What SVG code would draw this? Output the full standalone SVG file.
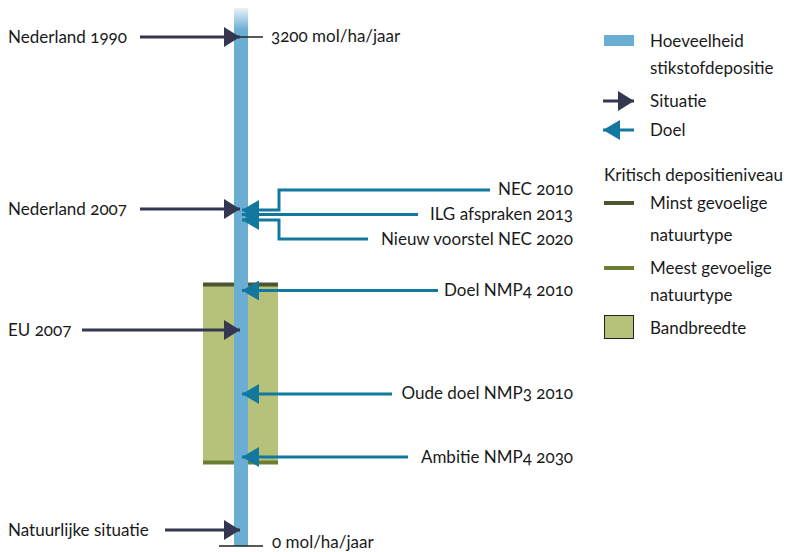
<svg xmlns="http://www.w3.org/2000/svg" width="793" height="552" viewBox="0 0 793 552">
  <defs>
    <style>
      text { font-family: Lato, "Open Sans", "Liberation Sans", sans-serif; font-size: 17px; fill: #1a1a1a; font-feature-settings: "onum"; font-variant-numeric: oldstyle-nums; }
      .end { text-anchor: end; }
      .sit { stroke: #35364f; stroke-width: 3; fill: none; }
      .goal { stroke: #12789f; stroke-width: 3; fill: none; }
      .tick { stroke: #222; stroke-width: 1.5; }
    </style>
    <linearGradient id="barFade" x1="0" y1="0" x2="0" y2="1">
      <stop offset="0" stop-color="#6aaed3" stop-opacity="0.15"/>
      <stop offset="1" stop-color="#6aaed3" stop-opacity="1"/>
    </linearGradient>
    <marker id="headSit" viewBox="0 0 16 20" refX="16" refY="10" markerWidth="16" markerHeight="20" markerUnits="userSpaceOnUse" orient="auto">
      <path d="M0,0 L16,10 L0,20 Z" fill="#35364f"/>
    </marker>
    <marker id="headGoal" viewBox="0 0 17 20" refX="17" refY="10" markerWidth="17" markerHeight="20" markerUnits="userSpaceOnUse" orient="auto">
      <path d="M0,0 L17,10 L0,20 Z" fill="#12789f"/>
    </marker>
  </defs>

  <!-- band of critical deposition levels -->
  <g id="band">
    <rect x="203" y="284" width="75" height="179" fill="#b6c17a"/>
    <line x1="203" y1="284.5" x2="278" y2="284.5" stroke="#4b5530" stroke-width="4"/>
    <line x1="203" y1="462.5" x2="278" y2="462.5" stroke="#6b7e33" stroke-width="4"/>
  </g>

  <!-- deposition bar -->
  <g id="bar">
    <rect x="234" y="8" width="14" height="22" fill="url(#barFade)"/>
    <rect x="234" y="30" width="14" height="516" fill="#6aaed3"/>
  </g>

  <!-- scale ticks -->
  <g id="scale">
    <line class="tick" x1="240" y1="37" x2="263" y2="37"/>
    <text x="271" y="42">3200 mol/ha/jaar</text>
    <line class="tick" x1="219" y1="546" x2="263" y2="546"/>
    <text x="272" y="548">0 mol/ha/jaar</text>
  </g>

  <!-- connectors -->
  <g id="connectors">
    <line class="sit" x1="140" y1="37" x2="240" y2="37" marker-end="url(#headSit)"/>
    <line class="sit" x1="140" y1="209" x2="240" y2="209" marker-end="url(#headSit)"/>
    <line class="sit" x1="82" y1="330" x2="240" y2="330" marker-end="url(#headSit)"/>
    <line class="sit" x1="165" y1="530" x2="240" y2="530" marker-end="url(#headSit)"/>

    <polyline class="goal" points="490,190 279,190 279,210 242,210" marker-end="url(#headGoal)"/>
    <line class="goal" x1="418" y1="214.5" x2="242" y2="214.5" marker-end="url(#headGoal)"/>
    <polyline class="goal" points="368,239 279,239 279,220 242,220" marker-end="url(#headGoal)"/>
    <line class="goal" x1="438" y1="290.5" x2="242" y2="290.5" marker-end="url(#headGoal)"/>
    <line class="goal" x1="392" y1="394" x2="242" y2="394" marker-end="url(#headGoal)"/>
    <line class="goal" x1="408" y1="457" x2="242" y2="457" marker-end="url(#headGoal)"/>
  </g>

  <!-- situation labels -->
  <g id="nl1990"><text x="8" y="43">Nederland 1990</text></g>
  <g id="nl2007"><text x="8" y="215">Nederland 2007</text></g>
  <g id="eu2007"><text x="8" y="336">EU 2007</text></g>
  <g id="natuur"><text x="8" y="536">Natuurlijke situatie</text></g>

  <!-- goal labels -->
  <g id="nec2010"><text class="end" x="573" y="195">NEC 2010</text></g>
  <g id="ilg2013"><text class="end" x="573" y="220">ILG afspraken 2013</text></g>
  <g id="nec2020"><text class="end" x="573" y="245">Nieuw voorstel NEC 2020</text></g>
  <g id="nmp4-2010"><text class="end" x="573" y="296">Doel NMP4 2010</text></g>
  <g id="nmp3-2010"><text class="end" x="573" y="399">Oude doel NMP3 2010</text></g>
  <g id="nmp4-2030"><text class="end" x="573" y="463">Ambitie NMP4 2030</text></g>

  <!-- legend -->
  <g id="legend">
    <rect x="604" y="35" width="30" height="11" fill="#6aaed3"/>
    <text x="650" y="47">Hoeveelheid</text>
    <text x="650" y="74">stikstofdepositie</text>

    <line class="sit" x1="603" y1="101" x2="634" y2="101" marker-end="url(#headSit)"/>
    <text x="650" y="107">Situatie</text>

    <line class="goal" x1="634" y1="130" x2="603" y2="130" marker-end="url(#headGoal)"/>
    <text x="650" y="136">Doel</text>

    <text x="604" y="181">Kritisch depositieniveau</text>
    <line x1="604" y1="203" x2="634" y2="203" stroke="#4b5530" stroke-width="4"/>
    <text x="650" y="209">Minst gevoelige</text>
    <text x="650" y="241">natuurtype</text>

    <line x1="604" y1="268" x2="634" y2="268" stroke="#6b7e33" stroke-width="4"/>
    <text x="650" y="274">Meest gevoelige</text>
    <text x="650" y="301">natuurtype</text>

    <rect x="604.5" y="315.5" width="29" height="23" fill="#b6c17a" stroke="#222" stroke-width="1"/>
    <text x="650" y="334">Bandbreedte</text>
  </g>
</svg>
